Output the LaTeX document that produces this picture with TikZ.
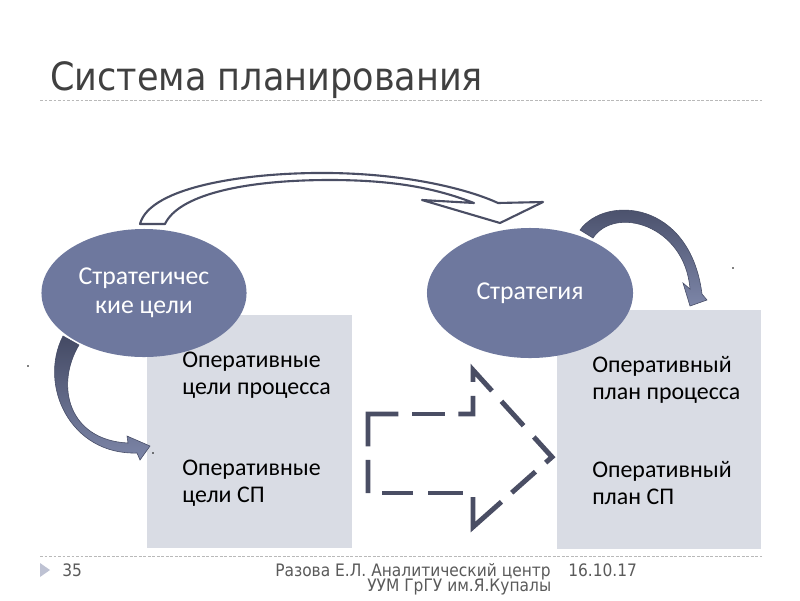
\documentclass[tikz,border=0pt]{standalone}
\usepackage{fontspec}
\setmainfont{Carlito}
\newfontfamily\headfont[FakeStretch=0.9]{DejaVu Sans}
\usetikzlibrary{shapes.geometric,positioning,calc}
\definecolor{slateblue}{RGB}{110,120,158}
\definecolor{slatedark}{RGB}{68,74,100}
\definecolor{panegray}{RGB}{217,220,228}
\definecolor{inkgray}{RGB}{74,78,100}
\definecolor{titlegray}{RGB}{64,64,64}
\definecolor{footgray}{RGB}{90,90,90}

\begin{document}
\begin{tikzpicture}[x=0.025cm, y=-0.025cm,
    goal/.style={ellipse, fill=slateblue, text=white, inner sep=0pt, align=center,
                 font=\fontsize{18.3}{20.6}\selectfont},
    pane/.style={rectangle, fill=panegray, inner sep=0pt, anchor=north west},
    panetext/.style={anchor=west, align=left, inner sep=0pt, font=\fontsize{17}{19.2}\selectfont},
    curvearrow/.style={draw=slatedark, line width=0.4pt, top color=slatedark, bottom color=slateblue!90!white},
    dashpiece/.style={draw=inkgray, line width=3.5pt, line cap=butt, line join=miter},
    sep/.style={draw=gray!55, dash pattern=on 2pt off 1.2pt, line width=0.5pt},
    foot/.style={anchor=base west, inner sep=0pt, text=footgray, font=\headfont\fontsize{12.2}{14}\selectfont}
]
    \fill[white] (0,0) rectangle (800,600);

    \node[anchor=base west, inner sep=0pt, text=titlegray, font=\headfont\fontsize{27.7}{30}\selectfont]
        (title) at (50,90) {Система планирования};
    \draw[sep] (40,100) -- (762,100);

    \node[pane, minimum width=5.125cm, minimum height=2.675cm] (goalsup) at (147,315) {};
    \node[pane, minimum width=5.125cm, minimum height=3.15cm] (goalslow) at (147,422) {};
    \node[pane, minimum width=5.1cm, minimum height=2.625cm] (planup) at (557,310) {};
    \node[pane, minimum width=5.1cm, minimum height=3.35cm] (planlow) at (557,415) {};

    \node[panetext] (goalsproc) at (182,375) {Оперативные\\цели процесса};
    \node[panetext] (goalssp) at (182,483) {Оперативные\\цели СП};
    \node[panetext] (planproc) at (592,380) {Оперативный\\план процесса};
    \node[panetext] (plansp) at (592,483) {Оперативный\\план СП};

    \node[goal, minimum width=5.125cm, minimum height=3.2cm] (sgoals) at (144,293) {Стратегичес\\кие цели};
    \node[goal, minimum width=5.15cm, minimum height=3.25cm] (strat) at (530,293) {Стратегия};

    \draw[inkgray, line width=1.5pt, fill=white, line join=round]
        (140,224) .. controls (150,186) and (250,172) .. (330,173)
        .. controls (410,174) and (470,190) .. (498,203) -- (543,202) -- (500,223) -- (422,200) -- (474,203)
        .. controls (440,190) and (400,180) .. (330,180)
        .. controls (240,180) and (178,196) .. (165,224) -- cycle;

    \path[curvearrow] (63,336) -- (79,345) .. controls (55,385) and (68,440) .. (128,443)
        -- (127,436) -- (150,446) -- (140,460) -- (137,453)
        .. controls (70,455) and (38,385) .. (63,336) -- cycle;
    \path[curvearrow] (580,230) .. controls (605,195) and (690,200) .. (702,294)
        -- (707,300) -- (690,306) -- (683,283) -- (690,289)
        .. controls (685,225) and (615,205) .. (593,238) -- cycle;

    \coordinate (d1) at (368,414);
    \coordinate (d2) at (473,414);
    \coordinate (d3) at (473,370);
    \coordinate (d4) at (552,457);
    \coordinate (d5) at (473,527);
    \coordinate (d6) at (473,493);
    \coordinate (d7) at (368,493);
    \draw[dashpiece] ($(d7)!0.59!(d1)$) -- (d1) -- ($(d1)!0.29!(d2)$);
    \draw[dashpiece] ($(d1)!0.42!(d2)$) -- ($(d1)!0.73!(d2)$);
    \draw[dashpiece] ($(d1)!0.86!(d2)$) -- (d2) -- ($(d2)!0.41!(d3)$);
    \draw[dashpiece] ($(d2)!0.73!(d3)$) -- (d3) -- ($(d3)!0.24!(d4)$);
    \draw[dashpiece] ($(d3)!0.36!(d4)$) -- ($(d3)!0.64!(d4)$);
    \draw[dashpiece] ($(d3)!0.77!(d4)$) -- (d4) -- ($(d4)!0.08!(d5)$);
    \draw[dashpiece] ($(d4)!0.21!(d5)$) -- ($(d4)!0.51!(d5)$);
    \draw[dashpiece] ($(d4)!0.64!(d5)$) -- (d5) -- ($(d5)!0.88!(d6)$);
    \draw[dashpiece] ($(d6)!0.10!(d7)$) -- ($(d6)!0.43!(d7)$);
    \draw[dashpiece] ($(d6)!0.57!(d7)$) -- ($(d6)!0.87!(d7)$);
    \draw[dashpiece] (d7) -- ($(d7)!0.42!(d1)$);

    \fill (28,366) circle (0.6pt);
    \fill (153,453) circle (0.6pt);
    \fill (733,268) circle (0.6pt);

    \draw[sep] (40,556) -- (762,556);
    \fill[slateblue!45!white] (40,563) -- (50,570) -- (40,577) -- cycle;
    \node[foot] (page) at (62,576) {35};
    \node[foot] (author) at (275,576) {Разова Е.Л. Аналитический центр};
    \node[foot] (date) at (568,576) {16.10.17};
    \node[foot] (org) at (367,591) {УУМ ГрГУ им.Я.Купалы};
\end{tikzpicture}
\end{document}
